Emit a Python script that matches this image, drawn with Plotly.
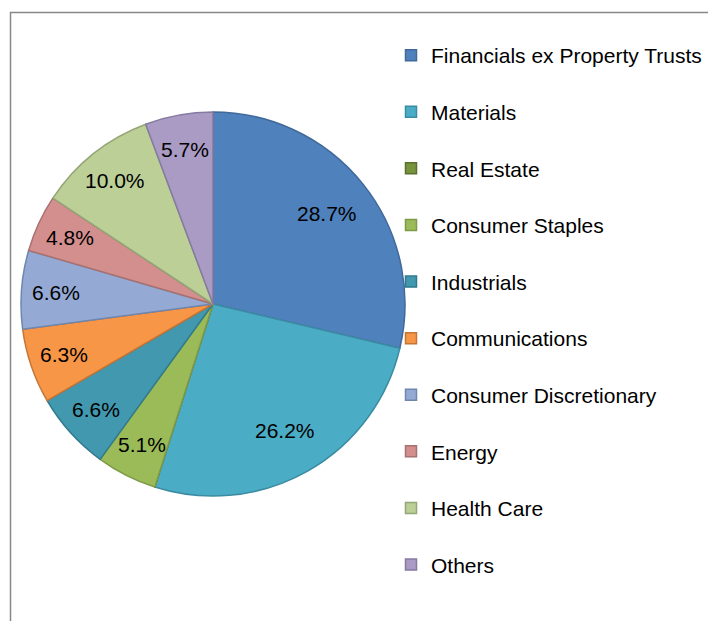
import math
import plotly.graph_objects as go

categories = ["Financials ex Property Trusts", "Materials", "Real Estate", "Consumer Staples",
              "Industrials", "Communications", "Consumer Discretionary", "Energy",
              "Health Care", "Others"]
weights = [28.7, 26.2, 0.0, 5.1, 6.6, 6.3, 6.6, 4.8, 10.0, 5.7]
fill_colors = ["#4F81BD", "#4BACC6", "#77933C", "#9BBB59", "#4198AF", "#F79646",
               "#94AAD5", "#D38F8D", "#BBCF97", "#A99BC4"]
line_colors = ["#41699A", "#3B8CA2", "#5A702D", "#7E9A47", "#307A8E", "#C47535",
               "#6F86AE", "#A87170", "#93A676", "#857AA0"]

W, H = 708, 621
FONT = "Liberation Sans, Arial, sans-serif"

# pie geometry (pixels in figure space)
CX, CY, R = 213, 304, 192

fig = go.Figure()
fig.add_trace(go.Pie(
    labels=categories, values=weights, sort=False, direction="clockwise", rotation=0,
    textinfo="none",
    marker=dict(colors=fill_colors, line=dict(color=line_colors, width=1.5)),
    showlegend=False, hoverinfo="label+percent",
    domain=dict(x=[(CX - R) / W, (CX + R) / W], y=[(H - CY - R) / H, (H - CY + R) / H]),
))

# data labels at mid-angle of each slice (derived from the weights)
total = sum(weights)
annotations = []
cum = 0.0
for v in weights:
    if v > 0:
        mid = (cum + v / 2) / total * 2 * math.pi
        rf = 0.76 if v / total > 0.2 else 0.82
        px = CX + rf * R * math.sin(mid)
        py = CY - rf * R * math.cos(mid)
        annotations.append(dict(
            x=px / W, y=(H - py) / H, xref="paper", yref="paper",
            text=f"{v:.1f}%", showarrow=False, xanchor="center", yanchor="middle",
            font=dict(family=FONT, size=21, color="#000000"),
        ))
    cum += v

for name, fc, lc in zip(categories, fill_colors, line_colors):
    fig.add_trace(go.Scatter(
        x=[None], y=[None], mode="markers", name=name, legendgroup=name,
        marker=dict(symbol="square", size=11, color=fc, line=dict(color=lc, width=1.5)),
        showlegend=True,
    ))

fig.update_layout(
    width=W, height=H, margin=dict(l=0, r=0, t=0, b=0),
    paper_bgcolor="white", plot_bgcolor="white",
    xaxis=dict(visible=False), yaxis=dict(visible=False),
    annotations=annotations,
    legend=dict(
        x=391 / W, y=(H - 35) / H, xanchor="left", yanchor="top",
        traceorder="grouped", tracegroupgap=26.3,
        font=dict(family=FONT, size=21, color="#000000"),
        bgcolor="rgba(0,0,0,0)", itemclick=False,
    ),
    shapes=[dict(type="rect", xref="paper", yref="paper",
                 x0=10.5 / W, x1=1.2, y0=-0.2, y1=(H - 12.5) / H,
                 line=dict(color="#878787", width=1.5), fillcolor="rgba(0,0,0,0)",
                 layer="below")],
)

fig.write_html("out.html", config={"displayModeBar": False},
               post_script="document.body.style.margin='0';document.body.style.overflow='hidden';")
